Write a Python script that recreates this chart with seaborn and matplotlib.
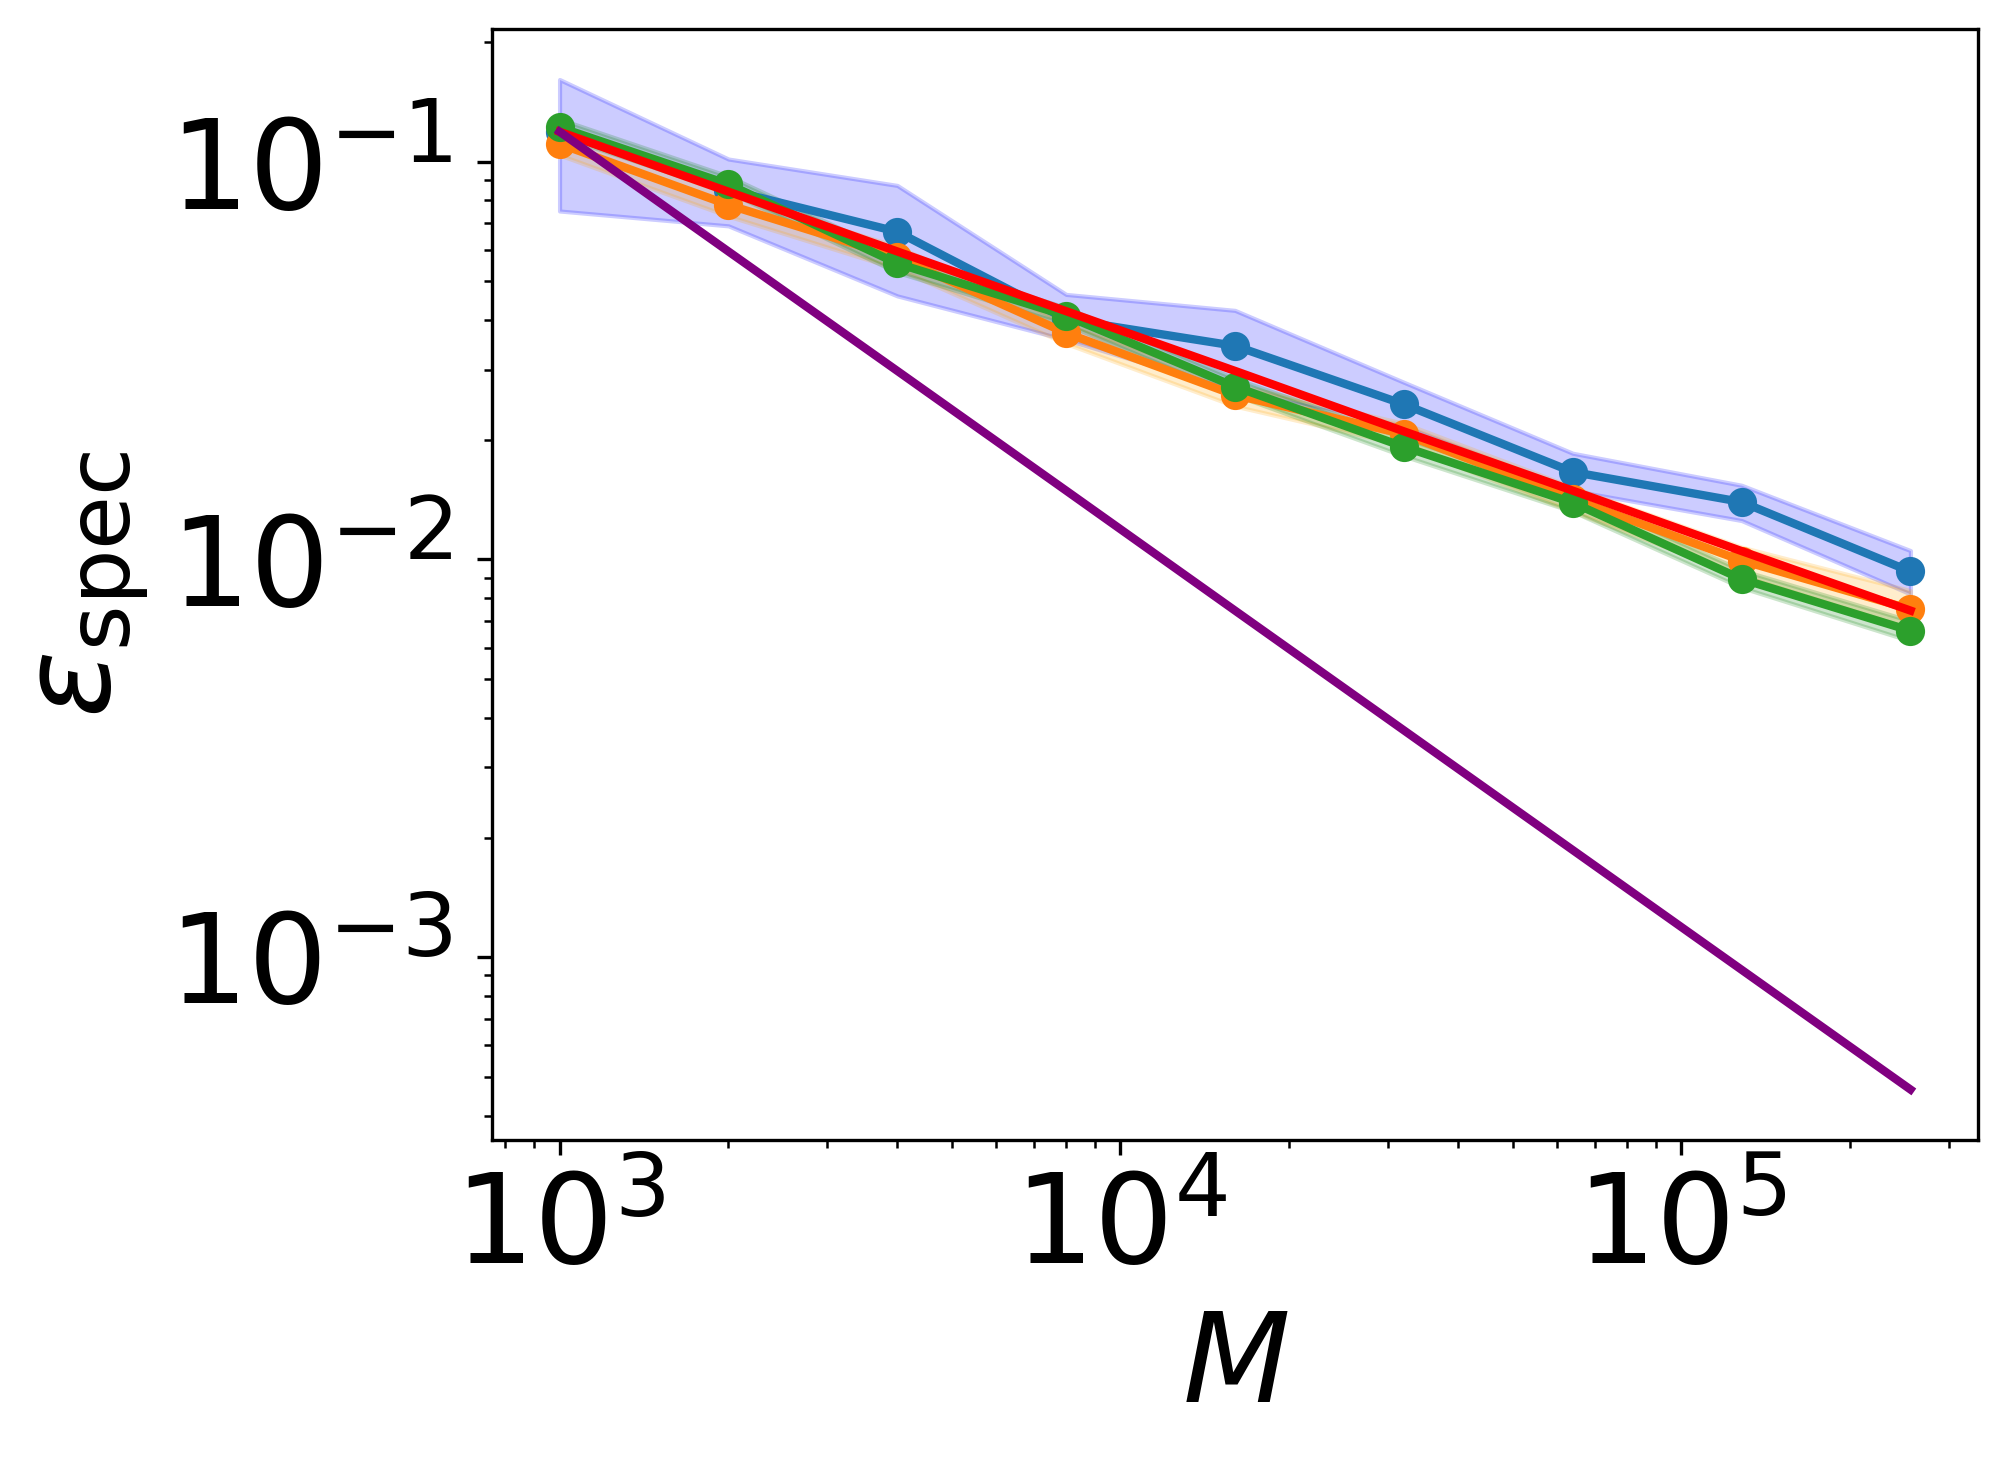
import matplotlib
matplotlib.use('Agg')
import matplotlib.pyplot as plt
import seaborn as sns

# --- data ---
M = [1000, 2000, 4000, 8000, 16000, 32000, 64000, 128000, 256000]

blue_mean = [0.119, 0.085, 0.0667, 0.0402, 0.03445, 0.02456, 0.0166, 0.01395, 0.00933]
blue_lo = [0.0752, 0.0690, 0.0460, 0.0357, 0.0266, 0.0216, 0.0149, 0.01253, 0.00819]
blue_hi = [0.161, 0.1016, 0.0872, 0.0464, 0.0423, 0.0279, 0.0185, 0.01537, 0.01053]

orange_mean = [0.1109, 0.0779, 0.0575, 0.0371, 0.0259, 0.02066, 0.0142, 0.00994, 0.0075]
orange_lo = [0.104, 0.073, 0.0538, 0.0349, 0.0243, 0.0194, 0.0132, 0.0091, 0.0067]
orange_hi = [0.118, 0.083, 0.0612, 0.0394, 0.0275, 0.0220, 0.0152, 0.01074, 0.00835]

green_mean = [0.1221, 0.0878, 0.0555, 0.0410, 0.0272, 0.0192, 0.0139, 0.00893, 0.00662]
green_lo = [0.116, 0.084, 0.0527, 0.0390, 0.0259, 0.0182, 0.0132, 0.0085, 0.00624]
green_hi = [0.128, 0.092, 0.0583, 0.0430, 0.0285, 0.0202, 0.0146, 0.0094, 0.00701]

# reference slopes drawn from the first point
red_ref = [0.119, 0.0841, 0.0595, 0.0421, 0.0298, 0.0210, 0.0149, 0.0105, 0.00744]
purple_ref = [0.119, 0.0595, 0.0298, 0.0149, 0.00744, 0.00372, 0.00186, 0.00093, 0.000465]

W, H = 2011, 1457
fig = plt.figure(figsize=(W / 300, H / 300), dpi=300)
ax = fig.add_axes([492 / W, 1 - 1140 / H, (1978 - 492) / W, (1140 - 29) / H])

series = [
    (blue_mean, blue_lo, blue_hi, '#1f77b4', 'blue'),
    (orange_mean, orange_lo, orange_hi, '#ff7f0e', 'orange'),
    (green_mean, green_lo, green_hi, '#2ca02c', 'green'),
]

for mean, lo, hi, col, fillcol in series:
    ax.fill_between(M, lo, hi, color=fillcol, alpha=0.2)
    sns.lineplot(x=M, y=mean, ax=ax, color=col, marker='o', markersize=6,
                 markeredgecolor=col, markeredgewidth=1, linewidth=2)

sns.lineplot(x=M, y=red_ref, ax=ax, color='red', linewidth=2)
sns.lineplot(x=M, y=purple_ref, ax=ax, color='purple', linewidth=2)

ax.set_xscale('log')
ax.set_yscale('log')
ax.tick_params(axis='both', which='major', labelsize=30)
ax.tick_params(axis='y', which='major', pad=6)
ax.set_xlabel(r'$M$', fontsize=30)
ax.set_ylabel(r'$\varepsilon_{\rm spec}$', fontsize=30)

fig.savefig('out.png', dpi=300)
